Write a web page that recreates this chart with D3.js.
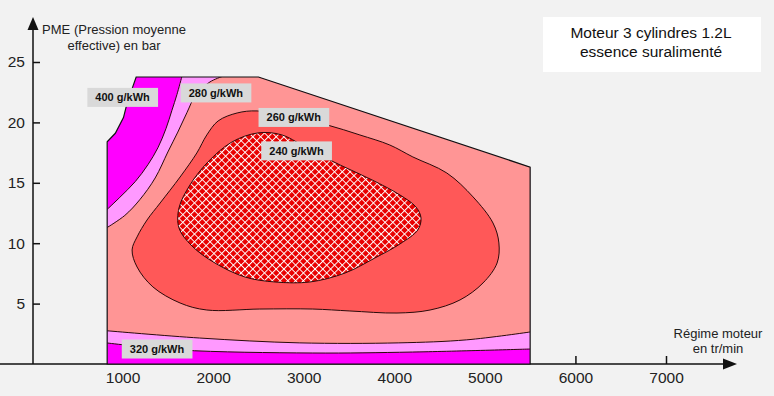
<html>
    <head>
        <script src="https://d3js.org/d3.v7.min.js"></script>
        <style>
            body {
                margin: 0;
                background-color: #f2f2f2;
                font-family: Arial, "Liberation Sans", Helvetica, sans-serif;
            }
        </style>
    </head>
    <body>
        <svg id="chart" width="774" height="396"></svg>

        <script>
            // engine map: x = regime (tr/min), y = PME (bar)
            const envelope = [[830, 0], [830, 18.4], [920, 19.1], [1010, 20.4], [1050, 21.6], [1115, 23.0], [1150, 23.76],
                              [2500, 23.76], [5500, 16.3], [5500, 0]];

            // 400 / 280 boundaries, top-left (from top down to left edge)
            const topMagenta = [[1655, 23.8], [1600, 22.3], [1545, 21.0], [1480, 19.5], [1390, 17.9], [1280, 16.5],
                                [1140, 15.1], [970, 13.8], [830, 12.8]];
            const topPink = [[2100, 23.8], [1965, 23.35], [1810, 22.3], [1710, 20.8], [1610, 19.2], [1500, 17.55],
                             [1360, 15.4], [1190, 13.6], [1025, 12.3], [830, 11.3]];

            // 320 / 280 boundaries at the bottom (left to right)
            const bottomMagenta = [[830, 1.74], [1630, 1.16], [3100, 0.91], [4200, 0.99], [5500, 1.24]];
            const bottomPink = [[830, 2.75], [1850, 2.15], [2950, 1.75], [4050, 1.75], [4800, 2.0], [5500, 2.65]];

            // 260 g/kWh contour
            const contour260 = [[2485, 20.95], [2850, 20.5], [3255, 19.8], [3620, 18.96], [3950, 18.13], [4205, 17.14],
                                [4580, 15.81], [4870, 13.83], [5090, 11.67], [5155, 10.02], [5135, 8.36], [4980, 6.71],
                                [4725, 5.3], [4395, 4.47], [4030, 4.22], [3510, 4.39], [3100, 4.55], [2515, 4.55],
                                [1930, 4.47], [1635, 5.05], [1335, 6.38], [1160, 8.03], [1105, 9.44], [1160, 10.52],
                                [1270, 11.92], [1415, 13.33], [1635, 15.48], [1820, 17.47], [1930, 18.96], [2055, 20.12],
                                [2265, 20.78]];

            // 240 g/kWh contour (hatched)
            const contour240 = [[4295, 12.09], [4260, 11.1], [4063, 9.94], [3787, 8.78], [3456, 7.53], [3069, 6.79],
                                [2683, 6.79], [2352, 7.2], [2020, 8.36], [1766, 9.77], [1623, 11.26], [1623, 12.92],
                                [1744, 14.82], [1943, 16.73], [2208, 18.38], [2495, 19.13], [2760, 18.96], [3069, 17.72],
                                [3400, 16.48], [3754, 15.24], [4063, 13.99], [4239, 13.0]];

            const labelTexts = ["400 g/kWh", "280 g/kWh", "260 g/kWh", "240 g/kWh", "320 g/kWh"];
            const labelRpm = [1000, 2030, 2890, 2920, 1380];
            const labelBar = [22.07, 22.44, 20.41, 17.64, 1.24];

            const xTicks = [1000, 2000, 3000, 4000, 5000, 6000, 7000];
            const yTicks = [5, 10, 15, 20, 25];

            const svg = d3.select("#chart");

            const x = d3.scaleLinear().domain([0, 7000]).range([32, 666]);
            const y = d3.scaleLinear().domain([0, 25]).range([364, 62]);

            const defs = svg.append("defs");
            defs.append("clipPath").attr("id", "envClip")
                .append("path")
                .attr("d", d3.line().x(d => x(d[0])).y(d => y(d[1]))(envelope) + "Z");

            const hatch = defs.append("pattern")
                              .attr("id", "hatch")
                              .attr("patternUnits", "userSpaceOnUse")
                              .attr("width", 5.5)
                              .attr("height", 5.5)
                              .attr("patternTransform", "rotate(45)");
            hatch.append("rect").attr("width", 5.5).attr("height", 5.5).attr("fill", "#e80000");
            hatch.append("path").attr("d", "M0,0.5H5.5M0.5,0V5.5")
                 .attr("stroke", "white").attr("stroke-width", 1);

            // title box
            svg.append("rect")
               .attr("x", 543).attr("y", 17)
               .attr("width", 218).attr("height", 55)
               .attr("fill", "white");
            svg.append("text").attr("x", 651).attr("y", 38)
               .attr("text-anchor", "middle").style("font-size", "15.5px").attr("fill", "#111")
               .text("Moteur 3 cylindres 1.2L");
            svg.append("text").attr("x", 651).attr("y", 57)
               .attr("text-anchor", "middle").style("font-size", "15.5px").attr("fill", "#111")
               .text("essence suralimenté");

            // axes
            const xAxis = svg.append("g")
                             .attr("transform", "translate(0,364)")
                             .call(d3.axisBottom(x).tickValues(xTicks).tickFormat(d3.format("d"))
                                     .tickSizeInner(-8).tickSizeOuter(0).tickPadding(8));
            const yAxis = svg.append("g")
                             .attr("transform", "translate(33,0)")
                             .call(d3.axisLeft(y).tickValues(yTicks)
                                     .tickSizeInner(-7).tickSizeOuter(0).tickPadding(8));
            [xAxis, yAxis].forEach(a => {
                a.select(".domain").remove();
                a.selectAll("line").attr("stroke", "#111").attr("stroke-width", 1.5);
                a.selectAll("text").style("font-size", "15.5px").attr("fill", "#222")
                 .style("font-family", "Arial, 'Liberation Sans', sans-serif");
            });

            svg.append("line").attr("x1", 0).attr("x2", 726).attr("y1", 364).attr("y2", 364)
               .attr("stroke", "#111").attr("stroke-width", 1.5);
            svg.append("path").attr("d", "M737,364L723,358.5L723,369.5Z").attr("fill", "#111");
            svg.append("line").attr("x1", 33).attr("x2", 33).attr("y1", 364).attr("y2", 28)
               .attr("stroke", "#111").attr("stroke-width", 1.5);
            svg.append("path").attr("d", "M33,17L27.5,30L38.5,30Z").attr("fill", "#111");

            svg.append("text").attr("x", 114).attr("y", 34).attr("text-anchor", "middle")
               .style("font-size", "13px").attr("fill", "#222").text("PME (Pression moyenne");
            svg.append("text").attr("x", 114).attr("y", 50).attr("text-anchor", "middle")
               .style("font-size", "13px").attr("fill", "#222").text("effective) en bar");
            svg.append("text").attr("x", 718).attr("y", 338).attr("text-anchor", "middle")
               .style("font-size", "13px").attr("fill", "#222").text("Régime moteur");
            svg.append("text").attr("x", 718).attr("y", 353).attr("text-anchor", "middle")
               .style("font-size", "13px").attr("fill", "#222").text("en tr/min");

            // map regions
            const curve = d3.line().x(d => x(d[0])).y(d => y(d[1])).curve(d3.curveCatmullRom);
            const closed = d3.line().x(d => x(d[0])).y(d => y(d[1])).curve(d3.curveCatmullRomClosed);
            const join = (...parts) => parts.map((p, i) => i ? p.replace(/^M/, "L") : p).join("") + "Z";
            const pt = (r, b) => "M" + x(r) + "," + y(b);

            const map = svg.append("g").attr("clip-path", "url(#envClip)");

            map.append("path")
               .attr("d", d3.line().x(d => x(d[0])).y(d => y(d[1]))(envelope) + "Z")
               .attr("fill", "#ff00ff");

            map.append("path")
               .attr("d", join(pt(1700, 26), curve(topMagenta), pt(600, 12.8), pt(600, 1.74),
                               curve(bottomMagenta), pt(5800, 1.24), pt(5800, 26)))
               .attr("fill", "#ff99ff");

            map.append("path")
               .attr("d", join(pt(2150, 26), curve(topPink), pt(600, 11.3), pt(600, 2.75),
                               curve(bottomPink), pt(5800, 2.65), pt(5800, 26)))
               .attr("fill", "#ff9595");

            [topMagenta, topPink, bottomMagenta, bottomPink].forEach(c => {
                map.append("path").attr("d", curve(c))
                   .attr("fill", "none").attr("stroke", "#2a0a0a").attr("stroke-width", 1);
            });

            map.append("path").attr("d", closed(contour260))
               .attr("fill", "#ff5858").attr("stroke", "#2a0a0a").attr("stroke-width", 1);

            map.append("path").attr("d", closed(contour240))
               .attr("fill", "url(#hatch)").attr("stroke", "#2a0a0a").attr("stroke-width", 1);

            svg.append("path")
               .attr("d", d3.line().x(d => x(d[0])).y(d => y(d[1]))(envelope) + "Z")
               .attr("fill", "none").attr("stroke", "#111").attr("stroke-width", 1.2);

            // labels
            labelTexts.forEach((t, i) => {
                const g = svg.append("g")
                             .attr("transform", "translate(" + x(labelRpm[i]) + "," + y(labelBar[i]) + ")");
                const box = g.append("rect").attr("fill", "#d9d9d9");
                const txt = g.append("text")
                             .attr("text-anchor", "middle")
                             .attr("dy", "0.35em")
                             .style("font-size", "11px")
                             .style("font-weight", "bold")
                             .attr("fill", "#111")
                             .text(t);
                const bb = txt.node().getBBox();
                box.attr("x", bb.x - 8).attr("y", -9.5)
                   .attr("width", bb.width + 16).attr("height", 19);
            });
        </script>
    </body>
</html>
